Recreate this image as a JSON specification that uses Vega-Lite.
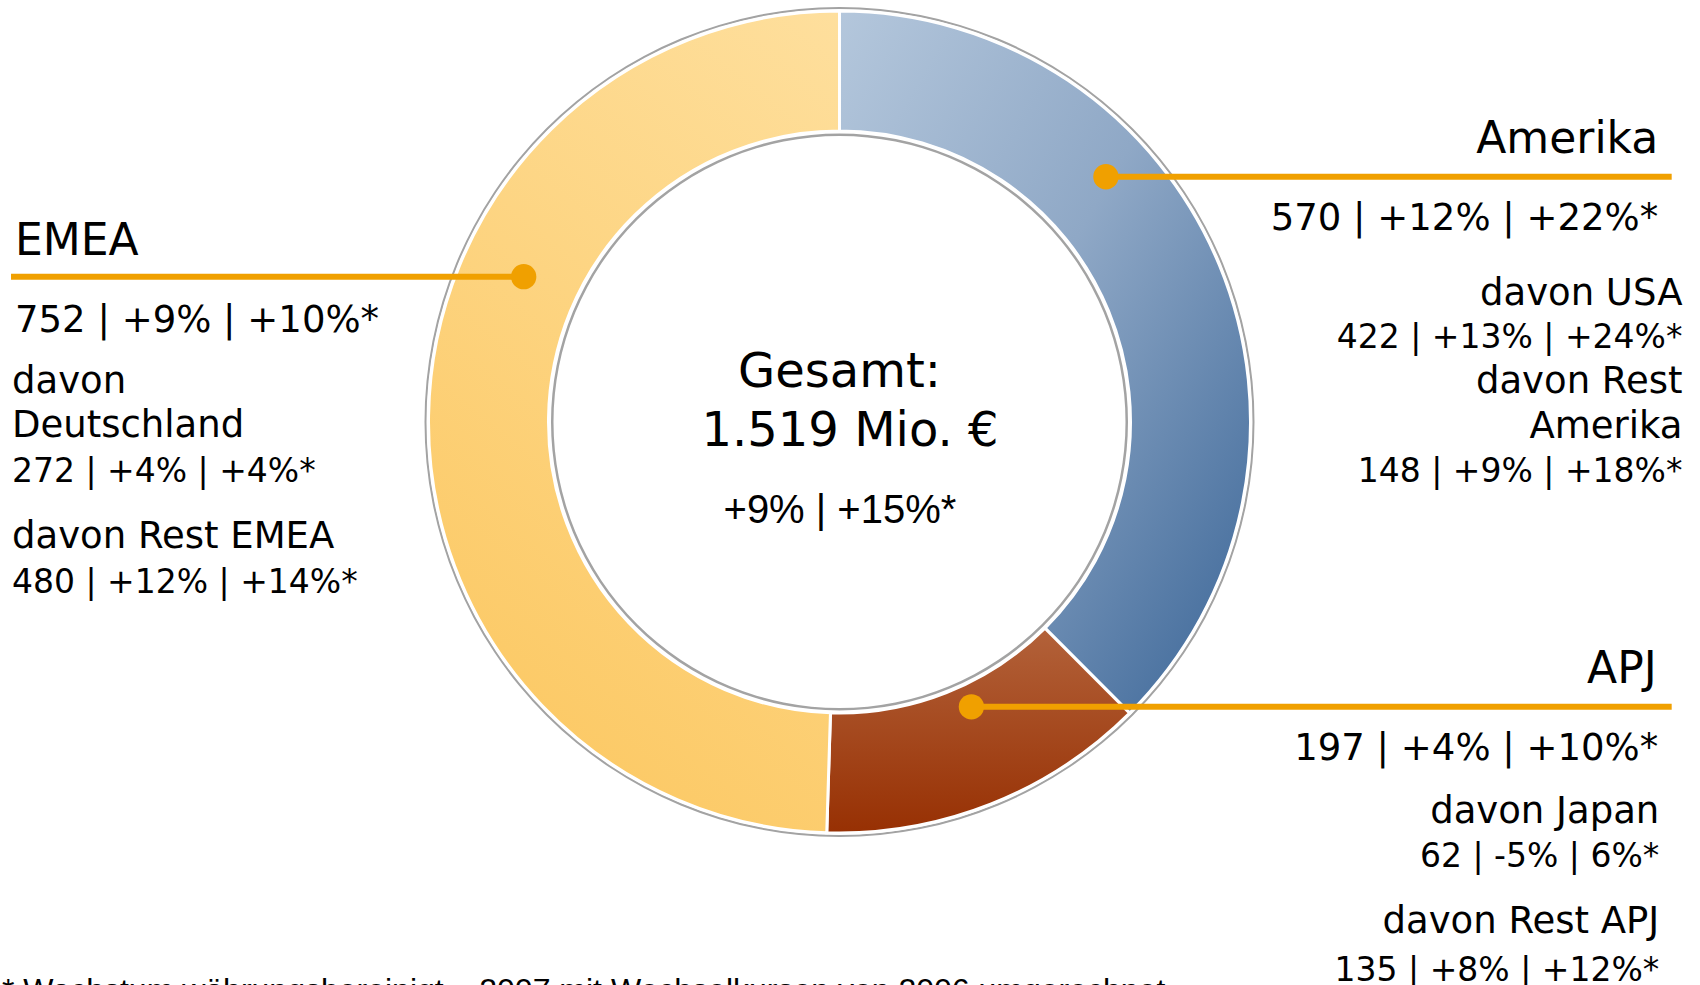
{
  "$schema": "https://vega.github.io/schema/vega-lite/v6.json",
  "width": 1700,
  "height": 985,
  "autosize": {"type": "none"},
  "padding": 0,
  "background": "white",
  "config": {"view": {"stroke": null}},
  "datasets": {
    "regions": [
      {"region": "Amerika", "value": 570, "order": 1},
      {"region": "APJ", "value": 197, "order": 2},
      {"region": "EMEA", "value": 752, "order": 3}
    ],
    "ring": [{"part": "Gesamt", "value": 1519}],
    "leaders": [
      {"region": "EMEA", "x": -0.7684, "x2": -2.0158, "y": 0.3535},
      {"region": "Amerika", "x": 0.6482, "x2": 2.0248, "y": 0.5968},
      {"region": "APJ", "x": 0.3209, "x2": 2.0248, "y": -0.6929}
    ],
    "labels": [
      {"side": "left", "role": "title", "label": "EMEA", "x": -2.006, "y": 0.4063},
      {"side": "left", "role": "main", "label": "752 | +9% | +10%*", "x": -2.006, "y": 0.2197},
      {"side": "left", "role": "subtext", "label": "davon", "x": -2.0134, "y": 0.0713},
      {"side": "left", "role": "subtext", "label": "Deutschland", "x": -2.0134, "y": -0.0372},
      {"side": "left", "role": "subnum", "label": "272 | +4% | +4%*", "x": -2.0134, "y": -0.1453},
      {"side": "left", "role": "subtext", "label": "davon Rest EMEA", "x": -2.0134, "y": -0.3073},
      {"side": "left", "role": "subnum", "label": "480 | +12% | +14%*", "x": -2.0134, "y": -0.4168},
      {"side": "right", "role": "title", "label": "Amerika", "x": 1.9922, "y": 0.6538},
      {"side": "right", "role": "main", "label": "570 | +12% | +22%*", "x": 1.9922, "y": 0.4672},
      {"side": "right", "role": "subtext", "label": "davon USA", "x": 2.051, "y": 0.2847},
      {"side": "right", "role": "subnum", "label": "422 | +13% | +24%*", "x": 2.051, "y": 0.1793},
      {"side": "right", "role": "subtext", "label": "davon Rest", "x": 2.051, "y": 0.0698},
      {"side": "right", "role": "subtext", "label": "Amerika", "x": 2.051, "y": -0.0397},
      {"side": "right", "role": "subnum", "label": "148 | +9% | +18%*", "x": 2.051, "y": -0.1453},
      {"side": "right", "role": "title", "label": "APJ", "x": 1.9883, "y": -0.6358},
      {"side": "right", "role": "main", "label": "197 | +4% | +10%*", "x": 1.9922, "y": -0.8224},
      {"side": "right", "role": "subtext", "label": "davon Japan", "x": 1.9946, "y": -0.9764},
      {"side": "right", "role": "subnum", "label": "62 | -5% | 6%*", "x": 1.9946, "y": -1.082},
      {"side": "right", "role": "subtext", "label": "davon Rest APJ", "x": 1.9946, "y": -1.244},
      {"side": "right", "role": "subnum", "label": "135 | +8% | +12%*", "x": 1.9946, "y": -1.3601},
      {"side": "center", "role": "center", "label": "Gesamt:", "x": 0.0, "y": 0.0859},
      {"side": "center", "role": "center", "label": "1.519 Mio. €", "x": 0.0255, "y": -0.0584},
      {"side": "center", "role": "growth", "label": "+9%   | +15%*", "x": 0.001, "y": -0.2465},
      {"side": "left", "role": "note", "label": "*  Wachstum währungsbereinigt – 2007 mit Wechselkursen von 2006 umgerechnet", "x": -2.0377, "y": -1.4088}
    ]
  },
  "layer": [
    {
      "data": {"name": "ring"},
      "mark": {"type": "arc", "theta": 0, "theta2": 6.2832, "radius": 415, "innerRadius": 286, "fill": "#a3a3a3"},
      "encoding": {
        "x": {"datum": 0, "type": "quantitative", "scale": {"domain": [-2.0426, 2.0937], "nice": false, "zero": false}, "axis": null},
        "y": {"datum": 0, "type": "quantitative", "scale": {"domain": [-1.3698, 1.0268], "nice": false, "zero": false}, "axis": null}
      }
    },
    {
      "data": {"name": "ring"},
      "mark": {"type": "arc", "theta": 0, "theta2": 6.2832, "radius": 413, "innerRadius": 288.5, "fill": "#ffffff"},
      "encoding": {
        "x": {"datum": 0, "type": "quantitative", "axis": null},
        "y": {"datum": 0, "type": "quantitative", "axis": null}
      }
    },
    {
      "data": {"name": "regions"},
      "transform": [
        {"stack": "value", "groupby": [], "sort": [{"field": "order", "order": "ascending"}], "as": ["start", "end"]},
        {"filter": "datum.region === 'Amerika'"}
      ],
      "mark": {"type": "arc", "radius": 411, "innerRadius": 291, "stroke": "#ffffff", "strokeWidth": 3,
        "fill": {"gradient": "linear", "x1": 0, "y1": 0, "x2": 1, "y2": 1,
          "stops": [{"offset": 0, "color": "#B4C7DC"}, {"offset": 0.45, "color": "#8FA8C6"}, {"offset": 1, "color": "#3A6597"}]}},
      "encoding": {
        "x": {"datum": 0, "type": "quantitative", "axis": null},
        "y": {"datum": 0, "type": "quantitative", "axis": null},
        "theta": {"field": "start", "type": "quantitative", "stack": null, "scale": {"domain": [0, 1519], "nice": false, "zero": true}},
        "theta2": {"field": "end"}
      }
    },
    {
      "data": {"name": "regions"},
      "transform": [
        {"stack": "value", "groupby": [], "sort": [{"field": "order", "order": "ascending"}], "as": ["start", "end"]},
        {"filter": "datum.region === 'APJ'"}
      ],
      "mark": {"type": "arc", "radius": 411, "innerRadius": 291, "stroke": "#ffffff", "strokeWidth": 3,
        "fill": {"gradient": "linear", "x1": 0, "y1": 0, "x2": 0, "y2": 1,
          "stops": [{"offset": 0, "color": "#B3623A"}, {"offset": 1, "color": "#973003"}]}},
      "encoding": {
        "x": {"datum": 0, "type": "quantitative", "axis": null},
        "y": {"datum": 0, "type": "quantitative", "axis": null},
        "theta": {"field": "start", "type": "quantitative", "stack": null},
        "theta2": {"field": "end"}
      }
    },
    {
      "data": {"name": "regions"},
      "transform": [
        {"stack": "value", "groupby": [], "sort": [{"field": "order", "order": "ascending"}], "as": ["start", "end"]},
        {"filter": "datum.region === 'EMEA'"}
      ],
      "mark": {"type": "arc", "radius": 411, "innerRadius": 291, "stroke": "#ffffff", "strokeWidth": 3,
        "fill": {"gradient": "linear", "x1": 1, "y1": 0, "x2": 0.6, "y2": 1,
          "stops": [{"offset": 0, "color": "#FEDF9D"}, {"offset": 1, "color": "#FCCA67"}]}},
      "encoding": {
        "x": {"datum": 0, "type": "quantitative", "axis": null},
        "y": {"datum": 0, "type": "quantitative", "axis": null},
        "theta": {"field": "start", "type": "quantitative", "stack": null},
        "theta2": {"field": "end"}
      }
    },
    {
      "data": {"name": "leaders"},
      "mark": {"type": "rule", "color": "#F0A000", "strokeWidth": 6},
      "encoding": {
        "x": {"field": "x", "type": "quantitative", "axis": null},
        "x2": {"field": "x2"},
        "y": {"field": "y", "type": "quantitative", "axis": null}
      }
    },
    {
      "data": {"name": "leaders"},
      "mark": {"type": "point", "filled": true, "shape": "circle", "color": "#F0A000", "size": 640, "opacity": 1},
      "encoding": {
        "x": {"field": "x", "type": "quantitative", "axis": null},
        "y": {"field": "y", "type": "quantitative", "axis": null}
      }
    },
    {
      "data": {"name": "labels"},
      "transform": [{"filter": "datum.side === 'left' && datum.role !== 'note'"}],
      "mark": {"type": "text", "align": "left", "baseline": "alphabetic", "font": "DejaVu Sans", "color": "#000000"},
      "encoding": {
        "x": {"field": "x", "type": "quantitative", "axis": null},
        "y": {"field": "y", "type": "quantitative", "axis": null},
        "text": {"field": "label"},
        "size": {"field": "role", "type": "nominal", "legend": null,
          "scale": {"type": "ordinal", "domain": ["title", "main", "subtext", "subnum", "center", "growth", "note"], "range": [44, 37, 37, 33, 48, 40, 32]}}
      }
    },
    {
      "data": {"name": "labels"},
      "transform": [{"filter": "datum.side === 'right'"}],
      "mark": {"type": "text", "align": "right", "baseline": "alphabetic", "font": "DejaVu Sans", "color": "#000000"},
      "encoding": {
        "x": {"field": "x", "type": "quantitative", "axis": null},
        "y": {"field": "y", "type": "quantitative", "axis": null},
        "text": {"field": "label"},
        "size": {"field": "role", "type": "nominal", "legend": null,
          "scale": {"type": "ordinal", "domain": ["title", "main", "subtext", "subnum", "center", "growth", "note"], "range": [44, 37, 37, 33, 48, 40, 32]}}
      }
    },
    {
      "data": {"name": "labels"},
      "transform": [{"filter": "datum.role === 'center'"}],
      "mark": {"type": "text", "align": "center", "baseline": "alphabetic", "font": "DejaVu Sans", "color": "#000000"},
      "encoding": {
        "x": {"field": "x", "type": "quantitative", "axis": null},
        "y": {"field": "y", "type": "quantitative", "axis": null},
        "text": {"field": "label"},
        "size": {"field": "role", "type": "nominal", "legend": null,
          "scale": {"type": "ordinal", "domain": ["title", "main", "subtext", "subnum", "center", "growth", "note"], "range": [44, 37, 37, 33, 48, 40, 32]}}
      }
    },
    {
      "data": {"name": "labels"},
      "transform": [{"filter": "datum.role === 'growth'"}],
      "mark": {"type": "text", "align": "center", "baseline": "alphabetic", "font": "Liberation Sans", "color": "#000000"},
      "encoding": {
        "x": {"field": "x", "type": "quantitative", "axis": null},
        "y": {"field": "y", "type": "quantitative", "axis": null},
        "text": {"field": "label"},
        "size": {"field": "role", "type": "nominal", "legend": null,
          "scale": {"type": "ordinal", "domain": ["title", "main", "subtext", "subnum", "center", "growth", "note"], "range": [44, 37, 37, 33, 48, 40, 32]}}
      }
    },
    {
      "data": {"name": "labels"},
      "transform": [{"filter": "datum.role === 'note'"}],
      "mark": {"type": "text", "align": "left", "baseline": "alphabetic", "font": "Liberation Sans", "color": "#000000"},
      "encoding": {
        "x": {"field": "x", "type": "quantitative", "axis": null},
        "y": {"field": "y", "type": "quantitative", "axis": null},
        "text": {"field": "label"},
        "size": {"field": "role", "type": "nominal", "legend": null,
          "scale": {"type": "ordinal", "domain": ["title", "main", "subtext", "subnum", "center", "growth", "note"], "range": [44, 37, 37, 33, 48, 40, 32]}}
      }
    }
  ]
}
